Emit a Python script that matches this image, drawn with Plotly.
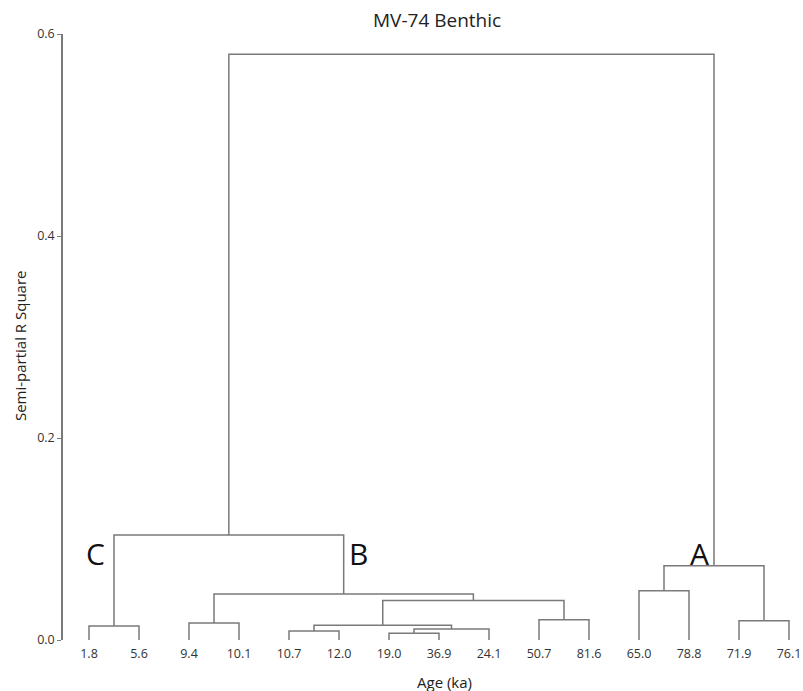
import plotly.graph_objects as go

# ---- data ----
leaf_labels = ["1.8", "5.6", "9.4", "10.1", "10.7", "12.0", "19.0", "36.9",
               "24.1", "50.7", "81.6", "65.0", "78.8", "71.9", "76.1"]
# linkage: node ids 0..14 are leaves, 15+ are merged clusters in order
merge_left = [6, 4, 15, 0, 16, 2, 13, 9, 19, 20, 11, 25, 18, 27]
merge_right = [7, 5, 8, 1, 17, 3, 14, 10, 22, 23, 12, 21, 24, 26]
merge_height = [0.0066, 0.0089, 0.0109, 0.0139, 0.0145, 0.0168, 0.0191,
                0.0200, 0.0390, 0.0455, 0.0488, 0.0736, 0.1040, 0.5800]
cluster_names = ["C", "B", "A"]
cluster_nodes = [18, 24, 26]
y_ticks = [0.0, 0.2, 0.4, 0.6]

n = len(leaf_labels)
xpos = {i: float(i) for i in range(n)}
ypos = {i: 0.0 for i in range(n)}
xs, ys = [], []
for k, (a, b, h) in enumerate(zip(merge_left, merge_right, merge_height)):
    node = n + k
    xs += [xpos[a], xpos[a], xpos[b], xpos[b], None]
    ys += [ypos[a], h, h, ypos[b], None]
    xpos[node] = (xpos[a] + xpos[b]) / 2
    ypos[node] = h

LINE = "#7a7a7a"
FONT = "Open Sans"

fig = go.Figure()
fig.add_trace(go.Scatter(x=xs, y=ys, mode="lines",
                         line=dict(color=LINE, width=1.5),
                         hoverinfo="skip", showlegend=False))

label_y = 0.086
anchors = {"C": ("right", -7), "B": ("left", 3), "A": ("right", -3)}
for name, node in zip(cluster_names, cluster_nodes):
    anc, sh = anchors[name]
    fig.add_annotation(x=xpos[node], y=label_y, text=name, showarrow=False,
                       xanchor=anc, yanchor="middle", xshift=sh,
                       font=dict(family=FONT, size=30, color="#111"))

fig.add_annotation(text="MV-74 Benthic", xref="paper", yref="paper",
                   x=0.508, y=1, yshift=14, yanchor="middle", showarrow=False,
                   font=dict(family=FONT, size=19, color="#222"))
fig.add_annotation(text="Age (ka)", xref="paper", yref="paper",
                   x=0.518, y=0, yshift=-42, yanchor="middle", showarrow=False,
                   font=dict(family=FONT, size=15, color="#222"))
fig.add_annotation(text="Semi-partial R Square", xref="paper", yref="paper",
                   x=0, xshift=-43, y=0.485, textangle=-90, showarrow=False,
                   xanchor="center", yanchor="middle",
                   font=dict(family=FONT, size=15, color="#222"))

fig.update_layout(
    width=803, height=691,
    margin=dict(l=63, r=3, t=34, b=51),
    plot_bgcolor="white", paper_bgcolor="white",
    xaxis=dict(range=[-0.52, 14.22], tickvals=list(range(n)),
               ticktext=leaf_labels, showgrid=False, zeroline=False,
               showline=False, ticks="", ticklen=0, automargin=False,
               ticklabelstandoff=4,
               tickfont=dict(family=FONT, size=12.5, color="#333")),
    yaxis=dict(range=[0, 0.6], tickvals=y_ticks,
               ticktext=[f"{v:.1f}" for v in y_ticks], automargin=False,
               showgrid=False, zeroline=False, showline=True,
               linecolor=LINE, linewidth=1.5, ticks="outside", ticklen=4,
               tickcolor=LINE, tickwidth=1,
               tickfont=dict(family=FONT, size=12.5, color="#333")),
)

fig.write_html("out.html", config={"displayModeBar": False},
               post_script="document.body.style.margin='0';document.body.style.overflow='hidden';")
